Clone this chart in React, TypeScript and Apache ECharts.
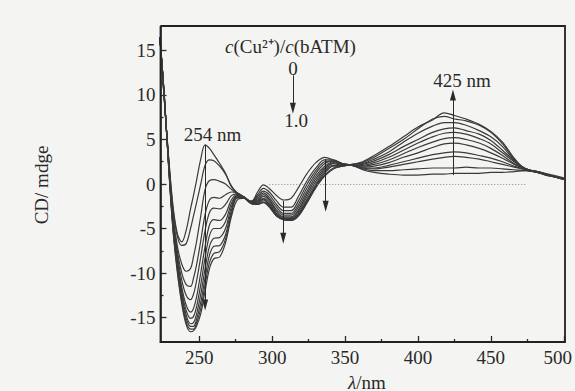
import React, { useEffect, useRef } from 'react';
import * as echarts from 'echarts';

const WAVELENGTHS = [223, 226, 229, 232, 235, 238, 241, 244, 246, 248, 251, 254, 257, 260, 264, 268, 272, 276, 281, 286, 290, 294, 298, 303, 308, 313, 318, 324, 330, 336, 342, 348, 355, 362, 370, 380, 390, 400, 410, 418, 425, 433, 442, 450, 458, 466, 474, 482, 490, 500];

const CD_00 = [16.5, 9.5, 3.0, -2.5, -5.6, -6.5, -5.2, -2.8, -1.3, 0.3, 2.8, 4.4, 4.0, 3.3, 2.3, 1.2, -0.3, -1.0, -1.6, -1.9, -0.9, -0.1, -0.5, -1.3, -1.8, -1.6, -0.4, 1.2, 2.4, 3.0, 2.7, 2.3, 2.1, 1.6, 1.3, 1.1, 1.0, 1.0, 1.1, 1.1, 1.2, 1.2, 1.2, 1.3, 1.3, 1.4, 1.5, 1.3, 1.0, 0.6];
const CD_01 = [16.4, 9.4, 2.8, -2.8, -5.9, -6.9, -6.7, -5.0, -3.6, -2.2, 0.0, 2.1, 2.7, 2.6, 2.0, 1.1, -0.2, -1.0, -1.5, -2.0, -1.2, -0.5, -0.9, -1.9, -2.6, -2.6, -1.4, 0.4, 1.8, 2.7, 2.7, 2.3, 2.1, 1.7, 1.5, 1.5, 1.6, 1.7, 1.8, 1.8, 1.8, 1.9, 1.8, 1.8, 1.7, 1.6, 1.5, 1.3, 1.0, 0.5];
const CD_02 = [16.5, 9.6, 2.6, -3.4, -7.0, -9.0, -9.8, -9.5, -8.2, -6.6, -3.6, -0.6, 0.4, 0.5, 0.3, 0.0, -0.6, -1.1, -1.5, -2.1, -1.4, -0.8, -1.2, -2.3, -3.0, -3.0, -1.9, 0.0, 1.5, 2.5, 2.6, 2.3, 2.1, 1.8, 1.7, 1.9, 2.2, 2.5, 2.8, 3.0, 3.1, 3.0, 2.8, 2.5, 2.2, 1.9, 1.6, 1.3, 0.9, 0.6];
const CD_03 = [16.5, 9.7, 2.5, -3.8, -7.6, -10.0, -11.3, -11.5, -10.6, -9.2, -6.4, -3.4, -1.8, -1.5, -1.6, -1.2, -0.9, -1.0, -1.5, -2.1, -1.6, -1.0, -1.5, -2.6, -3.3, -3.3, -2.3, -0.4, 1.2, 2.3, 2.6, 2.3, 2.1, 1.8, 1.8, 2.1, 2.5, 2.9, 3.3, 3.5, 3.6, 3.5, 3.2, 2.9, 2.5, 2.0, 1.6, 1.4, 1.0, 0.5];
const CD_04 = [16.5, 9.7, 2.4, -4.0, -8.0, -10.8, -12.5, -13.0, -12.4, -11.0, -8.2, -5.2, -3.2, -2.7, -2.8, -2.3, -1.3, -1.1, -1.5, -2.1, -1.8, -1.2, -1.7, -2.9, -3.5, -3.5, -2.6, -0.8, 0.9, 2.0, 2.5, 2.2, 2.1, 1.9, 2.0, 2.4, 3.0, 3.5, 4.1, 4.5, 4.6, 4.4, 4.0, 3.5, 2.9, 2.2, 1.7, 1.3, 0.9, 0.6];
const CD_05 = [16.5, 9.8, 2.3, -4.3, -8.5, -11.6, -13.6, -14.4, -14.0, -12.8, -10.0, -7.0, -4.6, -4.0, -4.1, -3.4, -1.8, -1.2, -1.5, -2.2, -1.9, -1.4, -1.9, -3.1, -3.7, -3.7, -2.9, -1.1, 0.6, 1.8, 2.4, 2.2, 2.1, 2.0, 2.2, 2.7, 3.4, 4.1, 4.7, 5.1, 5.2, 5.0, 4.6, 4.0, 3.2, 2.3, 1.7, 1.3, 1.0, 0.5];
const CD_06 = [16.5, 9.8, 2.2, -4.5, -8.8, -12.0, -14.2, -15.1, -14.9, -13.9, -11.3, -8.3, -5.8, -5.0, -5.0, -4.2, -2.2, -1.3, -1.5, -2.2, -2.0, -1.6, -2.1, -3.3, -3.8, -3.8, -3.1, -1.4, 0.3, 1.6, 2.3, 2.1, 2.1, 2.1, 2.4, 3.0, 3.8, 4.6, 5.3, 5.7, 5.8, 5.6, 5.1, 4.5, 3.5, 2.5, 1.7, 1.4, 1.0, 0.6];
const CD_07 = [16.5, 9.9, 2.1, -4.7, -9.1, -12.4, -14.7, -15.7, -15.6, -14.7, -12.4, -9.5, -7.0, -6.1, -6.0, -5.0, -2.6, -1.4, -1.6, -2.2, -2.1, -1.7, -2.3, -3.4, -3.9, -3.9, -3.3, -1.7, 0.0, 1.4, 2.1, 2.1, 2.1, 2.2, 2.6, 3.3, 4.2, 5.0, 5.8, 6.2, 6.3, 6.0, 5.6, 4.9, 3.8, 2.6, 1.7, 1.3, 1.0, 0.5];
const CD_08 = [16.5, 9.9, 2.0, -4.9, -9.4, -12.8, -15.1, -16.0, -16.0, -15.3, -13.3, -10.5, -8.0, -7.0, -6.9, -5.7, -3.0, -1.5, -1.6, -2.2, -2.2, -1.8, -2.4, -3.5, -4.0, -4.0, -3.4, -1.9, -0.2, 1.2, 2.0, 2.0, 2.2, 2.3, 2.8, 3.6, 4.7, 5.7, 6.5, 6.9, 6.9, 6.6, 6.0, 5.3, 4.2, 2.7, 1.7, 1.3, 1.0, 0.6];
const CD_09 = [16.5, 10.0, 1.9, -5.1, -9.7, -13.2, -15.5, -16.3, -16.3, -15.7, -14.0, -11.3, -8.8, -7.8, -7.6, -6.2, -3.4, -1.6, -1.6, -2.2, -2.3, -2.0, -2.5, -3.6, -4.0, -4.1, -3.5, -2.0, -0.3, 1.0, 1.8, 2.0, 2.2, 2.4, 3.0, 4.0, 5.0, 6.2, 7.3, 7.6, 7.3, 7.1, 6.6, 5.8, 4.5, 2.8, 1.6, 1.4, 1.0, 0.6];
const CD_10 = [16.5, 10.0, 1.8, -5.3, -10.0, -13.5, -15.8, -16.6, -16.5, -16.0, -14.6, -12.0, -9.5, -8.4, -8.2, -6.6, -3.7, -1.8, -1.6, -2.2, -2.3, -2.1, -2.6, -3.6, -4.0, -4.1, -3.6, -2.1, -0.4, 0.9, 1.7, 2.0, 2.2, 2.5, 3.2, 4.2, 5.3, 6.4, 7.2, 8.0, 7.7, 7.3, 6.7, 5.9, 4.7, 2.9, 1.6, 1.4, 1.1, 0.7];

const RATIO_LABELS = ['0', '0.1', '0.2', '0.3', '0.4', '0.5', '0.6', '0.7', '0.8', '0.9', '1.0'];
const SERIES_VALUES = [CD_00, CD_01, CD_02, CD_03, CD_04, CD_05, CD_06, CD_07, CD_08, CD_09, CD_10];

const X_TICKS = [250, 300, 350, 400, 450, 500];
const X_MINOR_TICKS = [275, 325, 375, 425, 475];
const Y_TICKS = [-15, -10, -5, 0, 5, 10, 15];
const Y_MINOR_TICKS = [-12.5, -7.5, -2.5, 2.5, 7.5, 12.5];

// arrows: wavelength, start value, tip value
const ARROW_X = [254, 307.6, 336.7, 424, 314.2];
const ARROW_FROM = [4.4, -1.9, 2.8, 1.0, 12.2];
const ARROW_TO = [-13.6, -6.1, -2.5, 10.0, 8.5];

const ZERO_LINE_X = [298, 474];

export default function App() {
  const ref = useRef<HTMLDivElement>(null);
  useEffect(() => {
    const chart = echarts.init(ref.current!, null, { renderer: 'svg' });
    const font = 'Liberation Serif';
    const ink = '#2a2a2a';
    const X_MIN = 223.4;
    const X_MAX = 500;
    const Y_MIN = -17.75;
    const Y_MAX = 17.75;
    const G_LEFT = 160.5;
    const G_RIGHT = 10;
    const G_TOP = 26;
    const G_BOTTOM = 49;
    const W = 575;
    const H = 391;
    const R = W - G_RIGHT;
    const B = H - G_BOTTOM;

    const series: any[] = SERIES_VALUES.map((vals, k) => ({
      type: 'line',
      name: RATIO_LABELS[k],
      data: WAVELENGTHS.map((w, i) => [w, vals[i]]),
      symbol: 'none',
      showSymbol: false,
      smooth: 0.35,
      silent: true,
      lineStyle: { color: '#3a3a3a', width: 1.2 },
      z: 3,
    }));

    series.push({
      type: 'line',
      data: [],
      silent: true,
      markLine: {
        silent: true,
        symbol: ['none', 'triangle'],
        symbolSize: [6, 11],
        label: { show: false },
        lineStyle: { color: ink, width: 1, type: 'solid' },
        data: ARROW_X.map((x, i) => [
          { coord: [x, ARROW_FROM[i]] },
          { coord: [x, ARROW_TO[i]] },
        ]),
      },
    });

    series.push({
      type: 'line',
      data: [],
      silent: true,
      markLine: {
        silent: true,
        symbol: ['none', 'none'],
        label: { show: false },
        lineStyle: { color: '#888', width: 1, type: [1, 2] },
        data: [[{ coord: [ZERO_LINE_X[0], 0] }, { coord: [ZERO_LINE_X[1], 0] }]],
      },
    });

    const labelStyle = { fontFamily: font, fontSize: 19, color: ink };
    const textStyle = { fontFamily: font, fontSize: 19, fill: ink };

    chart.setOption({
      animation: false,
      backgroundColor: '#f4f4f2',
      grid: { left: G_LEFT, right: G_RIGHT, top: G_TOP, bottom: G_BOTTOM },
      xAxis: [
        {
          type: 'value',
          min: X_MIN,
          max: X_MAX,
          position: 'bottom',
          axisLine: { show: true, onZero: false, lineStyle: { color: ink, width: 1.6 } },
          axisTick: { show: true, inside: true, length: 6, customValues: X_TICKS, lineStyle: { color: ink, width: 1.3 } },
          axisLabel: {
            ...labelStyle,
            margin: 6,
            customValues: X_TICKS,
            formatter: (v: number) => (v === 500 ? '{e|500}' : String(v)),
            rich: { e: { ...labelStyle, padding: [0, 12, 0, 0] } },
          },
          splitLine: { show: false },
        },
        {
          type: 'value',
          min: X_MIN,
          max: X_MAX,
          position: 'bottom',
          axisLine: { show: false, onZero: false },
          axisTick: { show: true, inside: true, length: 3, customValues: X_MINOR_TICKS, lineStyle: { color: ink, width: 1.3 } },
          axisLabel: { show: false },
          splitLine: { show: false },
        },
      ],
      yAxis: [
        {
          type: 'value',
          min: Y_MIN,
          max: Y_MAX,
          position: 'left',
          axisLine: { show: true, onZero: false, lineStyle: { color: ink, width: 1.6 } },
          axisTick: { show: true, inside: true, length: 6, customValues: Y_TICKS, lineStyle: { color: ink, width: 1.3 } },
          axisLabel: { ...labelStyle, margin: 5, customValues: Y_TICKS },
          splitLine: { show: false },
        },
        {
          type: 'value',
          min: Y_MIN,
          max: Y_MAX,
          position: 'left',
          axisLine: { show: false, onZero: false },
          axisTick: { show: true, inside: true, length: 3, customValues: Y_MINOR_TICKS, lineStyle: { color: ink, width: 1.3 } },
          axisLabel: { show: false },
          splitLine: { show: false },
        },
      ],
      series,
      graphic: [
        {
          type: 'polyline',
          z: 100,
          silent: true,
          shape: { points: [[G_LEFT, G_TOP], [R, G_TOP], [R, B], [G_LEFT, B], [G_LEFT, G_TOP]] },
          style: { fill: null, stroke: '#222', lineWidth: 1.8 },
        },
        {
          type: 'text',
          x: 225,
          y: 46,
          style: {
            ...textStyle,
            text: '{i|c}(Cu²⁺)/{i|c}(bATM)',
            align: 'left',
            verticalAlign: 'middle',
            rich: { i: { fontFamily: font, fontSize: 19, fontStyle: 'italic', fill: ink } },
          },
        },
        { type: 'text', x: 293, y: 68, style: { ...textStyle, text: '0', align: 'center', verticalAlign: 'middle' } },
        { type: 'text', x: 296, y: 120, style: { ...textStyle, text: '1.0', align: 'center', verticalAlign: 'middle' } },
        { type: 'text', x: 212.5, y: 134, style: { ...textStyle, text: '254 nm', align: 'center', verticalAlign: 'middle' } },
        { type: 'text', x: 462, y: 80, style: { ...textStyle, text: '425 nm', align: 'center', verticalAlign: 'middle' } },
        {
          type: 'text',
          x: 367,
          y: 382,
          style: {
            ...textStyle,
            text: '{i|λ}/nm',
            align: 'center',
            verticalAlign: 'middle',
            rich: { i: { fontFamily: font, fontSize: 19, fontStyle: 'italic', fill: ink } },
          },
        },
        {
          type: 'text',
          x: 41,
          y: 185,
          rotation: Math.PI / 2,
          style: { ...textStyle, text: 'CD/ mdge', align: 'center', verticalAlign: 'middle' },
        },
      ],
    });
    return () => chart.dispose();
  }, []);
  return (
    <div
      ref={ref}
      style={{ position: 'absolute', left: 0, top: 0, width: 575, height: 391 }}
    />
  );
}
